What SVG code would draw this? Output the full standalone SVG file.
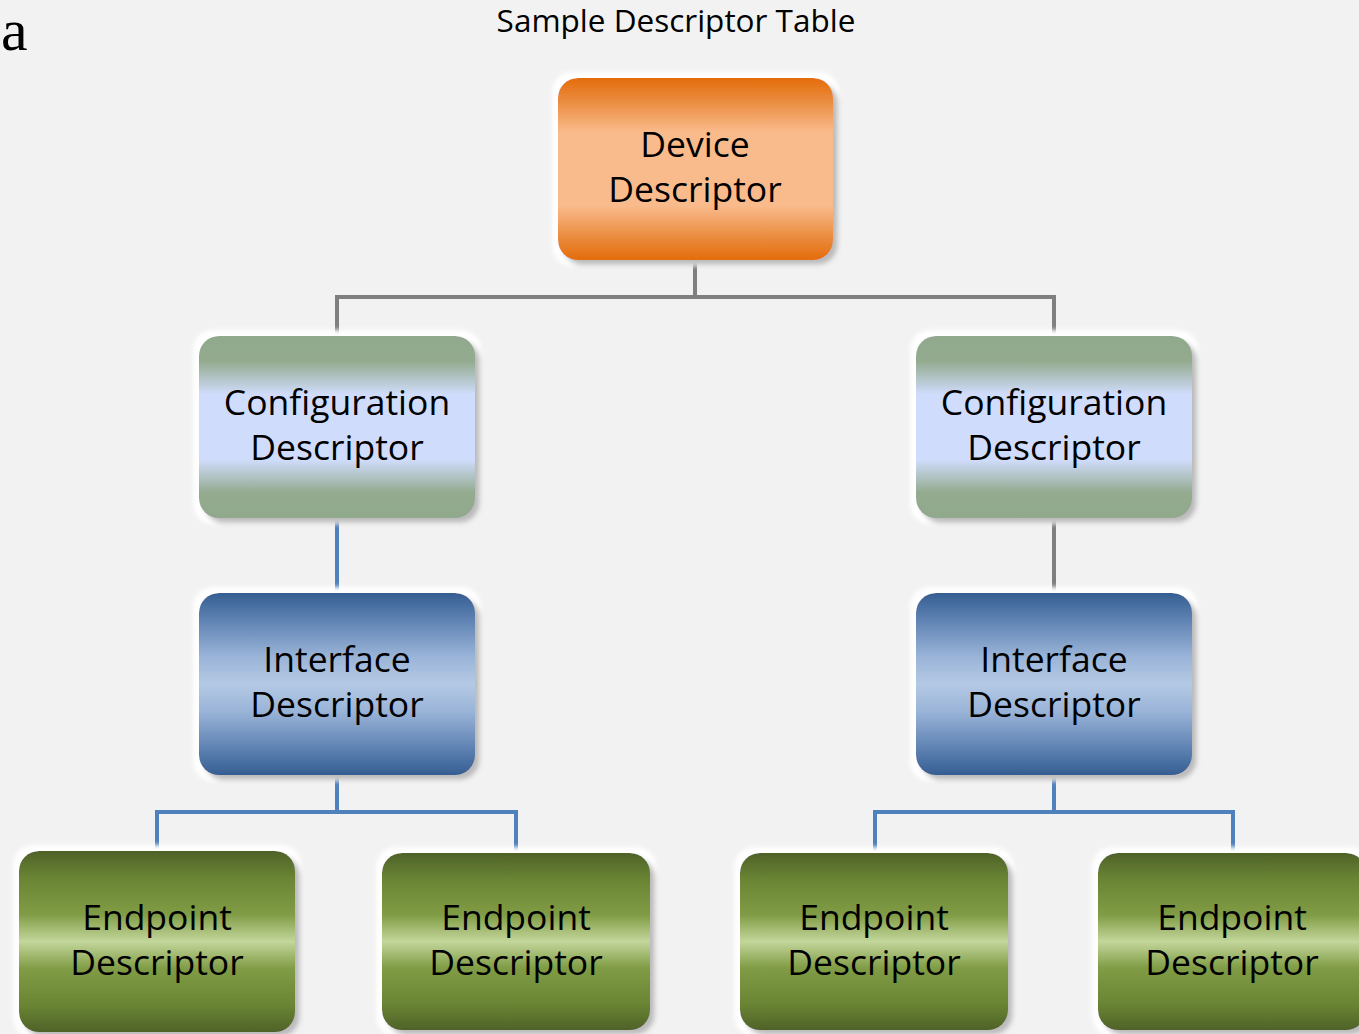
<svg xmlns="http://www.w3.org/2000/svg" width="1359" height="1034" viewBox="0 0 1359 1034">
<defs>
<linearGradient id="gDev" x1="0" y1="0" x2="0" y2="1">
<stop offset="0" stop-color="#e46c0a"/><stop offset="0.12" stop-color="#ea8a3c"/><stop offset="0.3" stop-color="#f9bb8c"/><stop offset="0.7" stop-color="#f9bb8c"/><stop offset="0.88" stop-color="#ea8a3c"/><stop offset="1" stop-color="#e46c0a"/>
</linearGradient>
<linearGradient id="gCfg" x1="0" y1="0" x2="0" y2="1">
<stop offset="0" stop-color="#90a88c"/><stop offset="0.14" stop-color="#94ab90"/><stop offset="0.32" stop-color="#d0dcfb"/><stop offset="0.68" stop-color="#d0dcfb"/><stop offset="0.86" stop-color="#94ab90"/><stop offset="1" stop-color="#90a88c"/>
</linearGradient>
<linearGradient id="gInt" x1="0" y1="0" x2="0" y2="1">
<stop offset="0" stop-color="#355e92"/><stop offset="0.15" stop-color="#5f83b3"/><stop offset="0.35" stop-color="#9ab4d8"/><stop offset="0.5" stop-color="#b4c9e4"/><stop offset="0.65" stop-color="#9ab4d8"/><stop offset="0.85" stop-color="#5f83b3"/><stop offset="1" stop-color="#355e92"/>
</linearGradient>
<linearGradient id="gEnd" x1="0" y1="0" x2="0" y2="1">
<stop offset="0" stop-color="#4f6228"/><stop offset="0.15" stop-color="#6a8534"/><stop offset="0.35" stop-color="#809c45"/><stop offset="0.5" stop-color="#c3d69b"/><stop offset="0.65" stop-color="#809c45"/><stop offset="0.85" stop-color="#6a8534"/><stop offset="1" stop-color="#4f6228"/>
</linearGradient>
<filter id="sh" x="-10%" y="-10%" width="125%" height="125%">
<feMorphology in="SourceAlpha" operator="dilate" radius="6" result="d"/>
<feGaussianBlur in="d" stdDeviation="2" result="db"/>
<feFlood flood-color="#ffffff"/><feComposite in2="db" operator="in" result="glow"/>
<feGaussianBlur in="SourceAlpha" stdDeviation="2.5" result="b"/>
<feOffset in="b" dx="5" dy="5" result="o"/>
<feFlood flood-color="#000000" flood-opacity="0.5"/><feComposite in2="o" operator="in" result="shadow"/>
<feMerge><feMergeNode in="glow"/><feMergeNode in="shadow"/><feMergeNode in="SourceGraphic"/></feMerge>
</filter>
</defs>
<style>
.lbl{font-family:"Open Sans","Liberation Sans",sans-serif;font-size:35.5px;fill:#000;text-anchor:middle}
.g{fill:none;stroke:#7f7f7f;stroke-width:4}
.b{fill:none;stroke:#4f81bd;stroke-width:4}
</style>
<rect x="0" y="0" width="1359" height="1034" fill="#f2f2f2"/>
<text x="1" y="50" font-family="Liberation Serif,serif" font-size="60" fill="#000">a</text>
<text x="676" y="32" font-family="Open Sans,Liberation Sans,sans-serif" font-size="31.5" fill="#000" text-anchor="middle">Sample Descriptor Table</text>
<g id="connectors">
<path class="g" d="M695,260 V297 M337,336 V297 H1054 V336"/>
<path class="b" d="M337,518 V593"/>
<path class="g" d="M1054,518 V593"/>
<path class="b" d="M337,775 V812 M157,851 V812 H516 V853"/>
<path class="b" d="M1054,775 V812 M875,853 V812 H1233 V853"/>
</g>
<g id="device">
<rect x="558" y="78" width="275" height="182" rx="20" fill="url(#gDev)" filter="url(#sh)"/>
<text class="lbl" x="695" y="157">Device</text><text class="lbl" x="695" y="202">Descriptor</text>
</g>
<g id="config1">
<rect x="199" y="336" width="276" height="182" rx="20" fill="url(#gCfg)" filter="url(#sh)"/>
<text class="lbl" x="337" y="415">Configuration</text><text class="lbl" x="337" y="460">Descriptor</text>
</g>
<g id="config2">
<rect x="916" y="336" width="276" height="182" rx="20" fill="url(#gCfg)" filter="url(#sh)"/>
<text class="lbl" x="1054" y="415">Configuration</text><text class="lbl" x="1054" y="460">Descriptor</text>
</g>
<g id="interface1">
<rect x="199" y="593" width="276" height="182" rx="20" fill="url(#gInt)" filter="url(#sh)"/>
<text class="lbl" x="337" y="672">Interface</text><text class="lbl" x="337" y="717">Descriptor</text>
</g>
<g id="interface2">
<rect x="916" y="593" width="276" height="182" rx="20" fill="url(#gInt)" filter="url(#sh)"/>
<text class="lbl" x="1054" y="672">Interface</text><text class="lbl" x="1054" y="717">Descriptor</text>
</g>
<g id="endpoint1">
<rect x="19" y="851" width="276" height="181" rx="20" fill="url(#gEnd)" filter="url(#sh)"/>
<text class="lbl" x="157" y="930">Endpoint</text><text class="lbl" x="157" y="975">Descriptor</text>
</g>
<g id="endpoint2">
<rect x="382" y="853" width="268" height="177" rx="20" fill="url(#gEnd)" filter="url(#sh)"/>
<text class="lbl" x="516" y="930">Endpoint</text><text class="lbl" x="516" y="975">Descriptor</text>
</g>
<g id="endpoint3">
<rect x="740" y="853" width="268" height="177" rx="20" fill="url(#gEnd)" filter="url(#sh)"/>
<text class="lbl" x="874" y="930">Endpoint</text><text class="lbl" x="874" y="975">Descriptor</text>
</g>
<g id="endpoint4">
<rect x="1098" y="853" width="268" height="177" rx="20" fill="url(#gEnd)" filter="url(#sh)"/>
<text class="lbl" x="1232" y="930">Endpoint</text><text class="lbl" x="1232" y="975">Descriptor</text>
</g>
</svg>
